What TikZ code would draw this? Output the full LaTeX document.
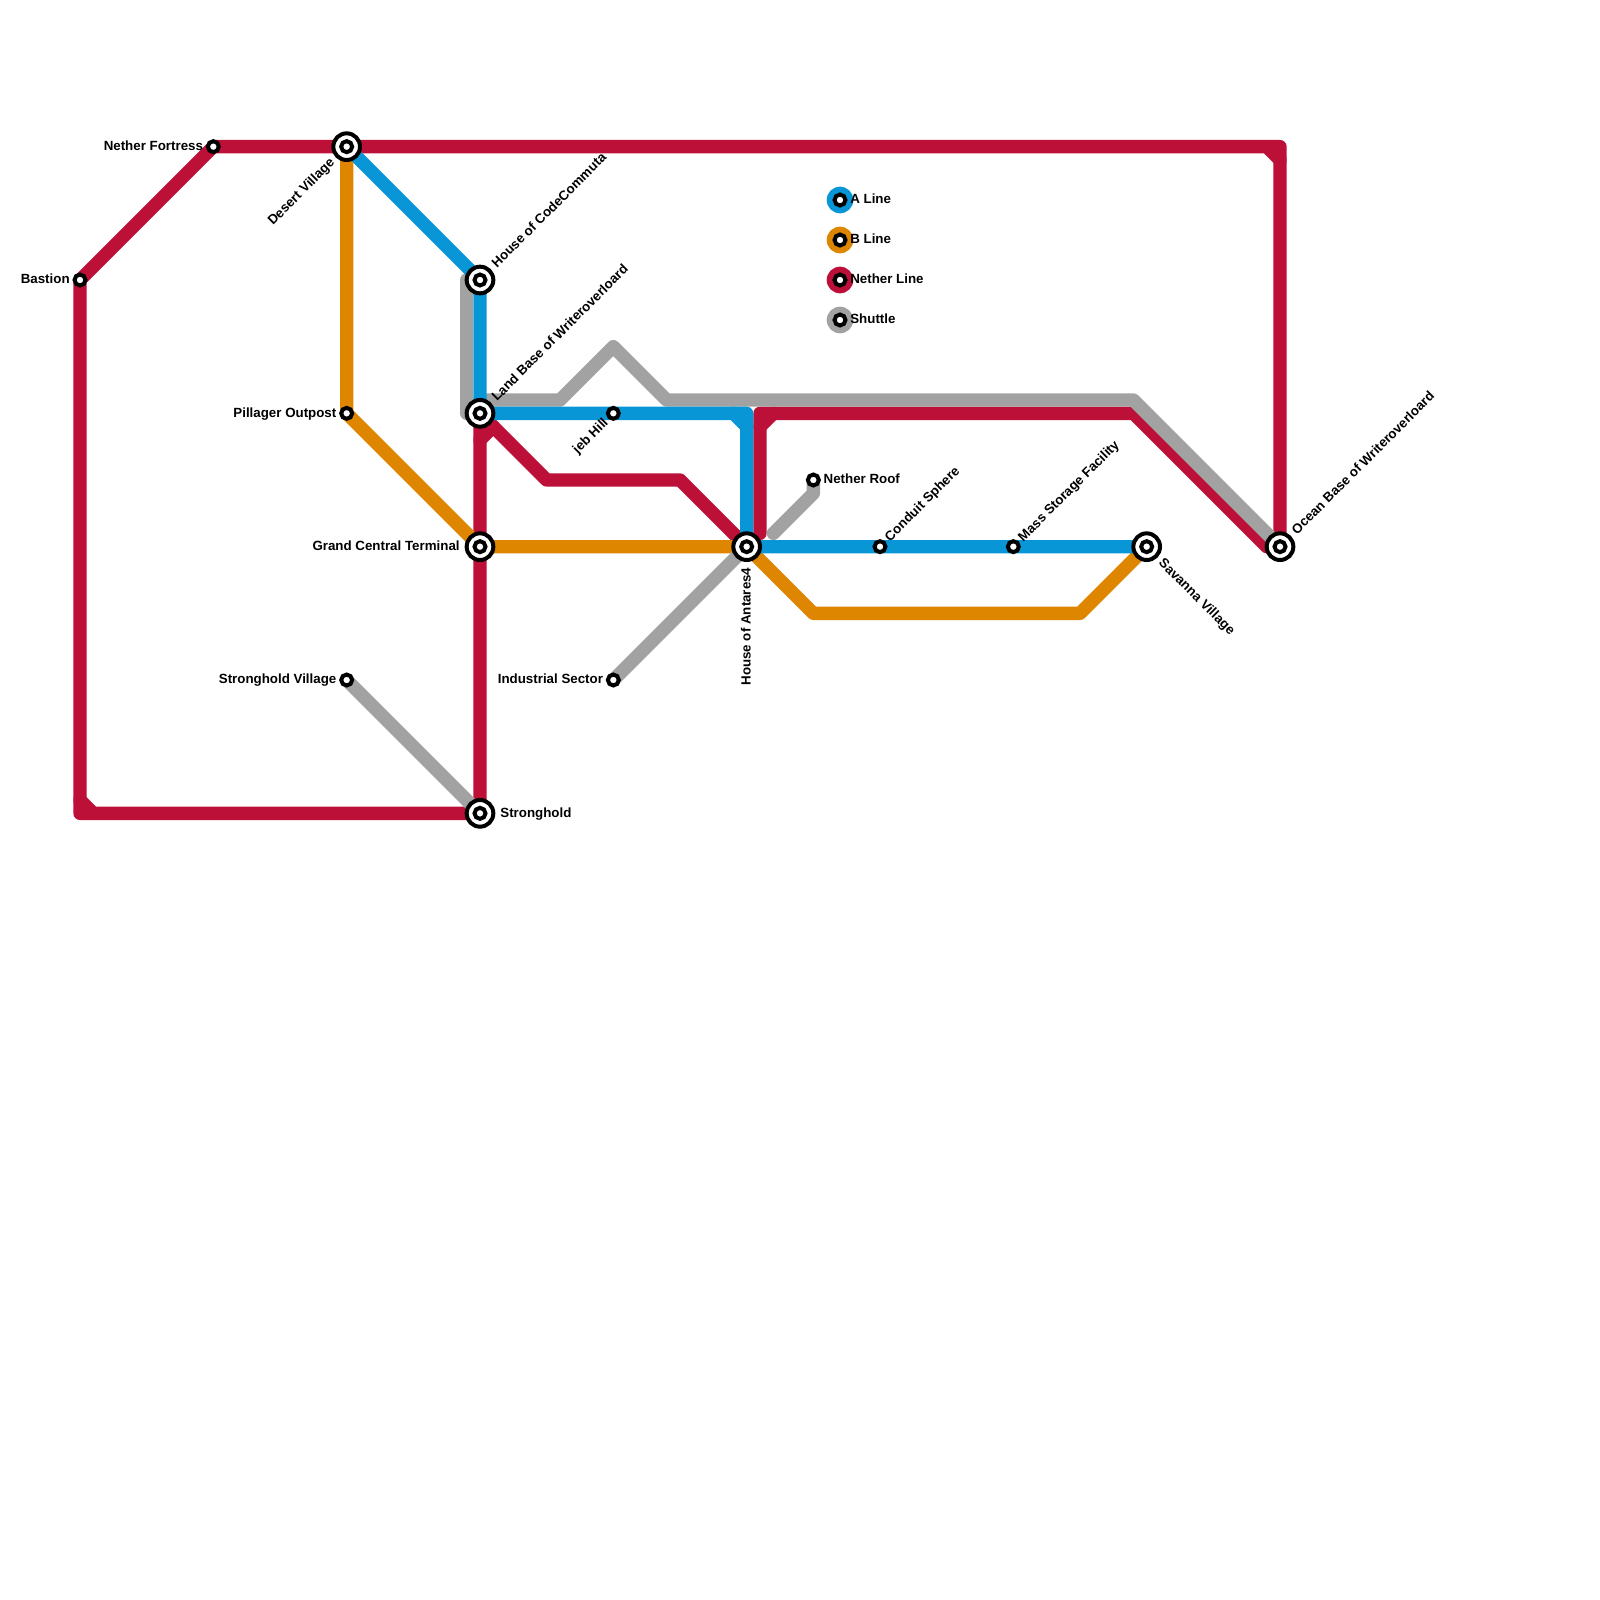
\documentclass[tikz,border=0pt]{standalone}
\usepackage{fontspec}
\setmainfont{Liberation Sans}
\usetikzlibrary{positioning}
\definecolor{aline}{HTML}{0896D7}
\definecolor{bline}{HTML}{DF8600}
\definecolor{netherline}{HTML}{BD1038}
\definecolor{shuttle}{HTML}{A2A2A2}
\pgfdeclarelayer{lines}
\pgfsetlayers{lines,main}
\tikzset{
    metro/.style={line width=0.25cm, line join=round, line cap=round},
    smallstop/.style={circle, draw=black, fill=white, line width=0.075cm, minimum size=0.205cm, inner sep=0pt, outer sep=0pt},
    bigstop/.style={circle, draw=black, fill=white, line width=0.075cm, minimum size=0.5cm, inner sep=0pt, outer sep=0pt,
        path picture={\draw[black, line width=0.075cm] (path picture bounding box.center) circle (0.103cm);}},
    keyblob/.style={circle, minimum size=0.5cm, inner sep=0pt, outer sep=0pt},
    stoplabel/.style={font=\bfseries\fontsize{7.11pt}{8pt}\selectfont, inner sep=0pt, text height=5.2pt, text depth=1pt}
}
\begin{document}
\begin{tikzpicture}[x=0.25cm, y=-0.25cm]
    \useasboundingbox (0,0) rectangle (120,120);
    \node[bigstop] (desert) at (26,11) {};
    \node[bigstop] (codecommuta) at (36,21) {};
    \node[bigstop] (landbase) at (36,31) {};
    \node[bigstop] (central) at (36,41) {};
    \node[bigstop] (stronghold) at (36,61) {};
    \node[bigstop] (antares) at (56,41) {};
    \node[bigstop] (savanna) at (86,41) {};
    \node[bigstop] (oceanbase) at (96,41) {};
    \node[smallstop] (bastion) at (6,21) {};
    \node[smallstop] (fortress) at (16,11) {};
    \node[smallstop] (pillager) at (26,31) {};
    \node[smallstop] (village) at (26,51) {};
    \node[smallstop] (industrial) at (46,51) {};
    \node[smallstop] (jebhill) at (46,31) {};
    \node[smallstop] (netherroof) at (61,36) {};
    \node[smallstop] (conduit) at (66,41) {};
    \node[smallstop] (massstorage) at (76,41) {};
    \coordinate (netherend) at (57,40);
    \coordinate (roofend) at (58,40);
    \coordinate (shuttletop) at (35,21);
    \coordinate (shuttlestart) at (36,30);
    \begin{pgfonlayer}{lines}
        \node[keyblob, fill=aline] (akey) at (63,15) {};
        \node[keyblob, fill=bline] (bkey) at (63,18) {};
        \node[keyblob, fill=netherline] (netherkey) at (63,21) {};
        \node[keyblob, fill=shuttle] (shuttlekey) at (63,24) {};
        \draw[metro, netherline] (oceanbase.center) -- (96,11) -- (fortress.center) -- (bastion.center) -- (6,61) -- (stronghold.center) -- (central.center) -- (landbase.center);
        \draw[metro, netherline] (95,11) -- (96,12);
        \draw[metro, netherline] (6,60) -- (7,61);
        \draw[metro, netherline] (36,33) -- (37,32);
        \draw[metro, netherline] (landbase.center) -- (41,36) -- (51,36) -- (antares.center);
        \draw[metro, netherline] (netherend) -- (57,31) -- (85,31) -- (95,41) -- (oceanbase.center);
        \draw[metro, netherline] (57,32) -- (58,31);
        \draw[metro, bline] (desert.center) -- (pillager.center) -- (central.center) -- (antares.center) -- (61,46) -- (81,46) -- (savanna.center);
        \draw[metro, shuttle] (shuttletop) -- (35,31) -- (landbase.center);
        \draw[metro, shuttle] (shuttlestart) -- (42,30) -- (46,26) -- (50,30) -- (85,30) -- (oceanbase.center);
        \draw[metro, shuttle] (village.center) -- (stronghold.center);
        \draw[metro, shuttle] (industrial.center) -- (antares.center);
        \draw[metro, shuttle] (netherroof.center) -- (61,37) -- (roofend);
        \draw[metro, aline] (desert.center) -- (codecommuta.center) -- (landbase.center) -- (jebhill.center) -- (56,31) -- (antares.center) -- (conduit.center) -- (massstorage.center) -- (savanna.center);
        \draw[metro, aline] (55,31) -- (56,32);
    \end{pgfonlayer}
    \node[stoplabel, left=0.084cm of bastion] (bastionlabel) {Bastion};
    \node[stoplabel, left=0.084cm of fortress] (fortresslabel) {Nether Fortress};
    \node[stoplabel, left=0.084cm of pillager] (pillagerlabel) {Pillager Outpost};
    \node[stoplabel, left=0.084cm of village] (villagelabel) {Stronghold Village};
    \node[stoplabel, left=0.084cm of industrial] (industriallabel) {Industrial Sector};
    \node[stoplabel, right=0.084cm of netherroof] (rooflabel) {Nether Roof};
    \node[stoplabel, left=0.125cm of central] (centrallabel) {Grand Central Terminal};
    \node[stoplabel, right=0.125cm of stronghold] (strongholdlabel) {Stronghold};
    \node[stoplabel, rotate=45, anchor=east] (desertlabel) at ([shift={(-1.05,1.05)}]desert.center) {Desert Village};
    \node[stoplabel, rotate=45, anchor=west] (codelabel) at ([shift={(1.05,-1.05)}]codecommuta.center) {House of CodeCommuta};
    \node[stoplabel, rotate=45, anchor=west] (landlabel) at ([shift={(1.05,-1.05)}]landbase.center) {Land Base of Writeroverloard};
    \node[stoplabel, rotate=45, anchor=east] (jeblabel) at ([shift={(-0.53,0.53)}]jebhill.center) {jeb Hill};
    \node[stoplabel, rotate=45, anchor=west] (conduitlabel) at ([shift={(0.53,-0.53)}]conduit.center) {Conduit Sphere};
    \node[stoplabel, rotate=45, anchor=west] (masslabel) at ([shift={(0.53,-0.53)}]massstorage.center) {Mass Storage Facility};
    \node[stoplabel, rotate=45, anchor=west] (oceanlabel) at ([shift={(1.05,-1.05)}]oceanbase.center) {Ocean Base of Writeroverloard};
    \node[stoplabel, rotate=-45, anchor=west] (savannalabel) at ([shift={(1.05,1.05)}]savanna.center) {Savanna Village};
    \node[stoplabel, rotate=90, anchor=east] (antareslabel) at ([shift={(0,1.55)}]antares.center) {House of Antares4};
    \node[smallstop] (astop) at (akey) {};
    \node[smallstop] (bstop) at (bkey) {};
    \node[smallstop] (netherstop) at (netherkey) {};
    \node[smallstop] (shuttlestop) at (shuttlekey) {};
    \node[stoplabel, right=0.084cm of astop] (alabel) {A Line};
    \node[stoplabel, right=0.084cm of bstop] (blabel) {B Line};
    \node[stoplabel, right=0.084cm of netherstop] (netherlabel) {Nether Line};
    \node[stoplabel, right=0.084cm of shuttlestop] (shuttlelabel) {Shuttle};
\end{tikzpicture}
\end{document}
